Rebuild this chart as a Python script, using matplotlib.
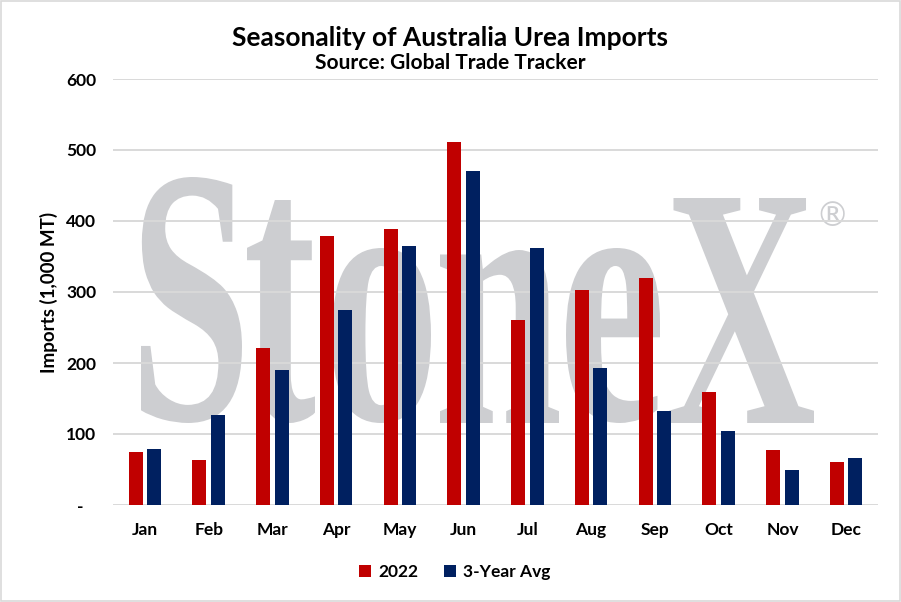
import numpy as np
import matplotlib
matplotlib.use("Agg")
import matplotlib.pyplot as plt
from matplotlib.textpath import TextPath
from matplotlib.font_manager import FontProperties
from matplotlib.patches import PathPatch, Rectangle
from matplotlib.transforms import Affine2D

# data
months = ["Jan", "Feb", "Mar", "Apr", "May", "Jun",
          "Jul", "Aug", "Sep", "Oct", "Nov", "Dec"]
imports_2022 = [75, 63, 221, 379, 389, 511, 261, 303, 320, 159, 77, 61]
imports_3yr_avg = [79, 127, 190, 275, 365, 470, 362, 193, 132, 104, 49, 66]
y_ticks = [0, 100, 200, 300, 400, 500, 600]
y_tick_labels = ["-   ", "100", "200", "300", "400", "500", "600"]

RED = "#C00000"
NAVY = "#002060"
WM_GRAY = "#CDCED1"
GRID = "#D9D9D9"

plt.rcParams["font.family"] = ["Lato", "DejaVu Sans"]
plt.rcParams["font.weight"] = "bold"

fig = plt.figure(figsize=(9.01, 6.02), dpi=100)
ax = fig.add_axes([113 / 901, 1 - 505 / 602, 765 / 901, 426 / 602])

# -------------------------------------------------------------
# watermark (StoneX logo), letter boxes given in figure pixels
# -------------------------------------------------------------
def px_to_ax(px, py):
    return (px - 113) / 765, (505 - py) / 426

serif = FontProperties(family="Liberation Serif")
baseline = 423
letters = [("S", 141, 242, 177), ("t", 247, 315, 200), ("o", 332, 431, 248),
           ("n", 440, 559, 250), ("e", 566, 660, 248), ("X", 669, 814, 198)]
for ch, x0, x1, ytop in letters:
    tp = TextPath((0, 0), ch, size=1, prop=serif)
    ext = tp.get_extents()
    ax0, ay0 = px_to_ax(x0, baseline)
    ax1, ay1 = px_to_ax(x1, ytop)
    tr = (Affine2D().translate(-ext.x0, -ext.y0)
          .scale((ax1 - ax0) / ext.width, (ay1 - ay0) / ext.height)
          .translate(ax0, ay0))
    patch = PathPatch(tr.transform_path(tp), facecolor=WM_GRAY, edgecolor="none",
                      transform=ax.transAxes, zorder=0.1)
    ax.add_patch(patch)

rx, ry = px_to_ax(832, 217)
ax.text(rx, ry, "®", transform=ax.transAxes, fontsize=24, color=WM_GRAY,
        fontweight="normal", family="DejaVu Sans", ha="center", va="center", zorder=0.1)

# -------------------------------------------------------------
# bars
# -------------------------------------------------------------
x = np.arange(len(months))
w = 0.22
off = 0.145
ax.bar(x - off, imports_2022, w, color=RED, label="2022", zorder=2)
ax.bar(x + off, imports_3yr_avg, w, color=NAVY, label="3-Year Avg", zorder=2)

ax.set_xlim(-0.5, len(months) - 0.5)
ax.set_ylim(0, 600)
ax.set_yticks(y_ticks)
ax.set_yticklabels(y_tick_labels)
ax.set_xticks(x)
ax.set_xticklabels(months)
ax.tick_params(axis="both", length=0, labelsize=12.5, colors="black")
ax.tick_params(axis="y", pad=12)
ax.tick_params(axis="x", pad=12)
for lbl in ax.get_xticklabels() + ax.get_yticklabels():
    lbl.set_fontweight("bold")

ax.set_axisbelow(True)
ax.yaxis.grid(True, color=GRID, linewidth=1.4)
for s in ax.spines.values():
    s.set_visible(False)
ax.set_facecolor("none")

ax.set_ylabel("Imports (1,000 MT)", fontsize=13.5, fontweight="bold", labelpad=6)

fig.text(0.5, 1 - 38 / 602, "Seasonality of Australia Urea Imports",
         ha="center", va="center", fontsize=19, fontweight="bold")
fig.text(0.5, 1 - 63 / 602, "Source: Global Trade Tracker",
         ha="center", va="center", fontsize=15, fontweight="bold")

leg = fig.legend(loc="center", bbox_to_anchor=(455 / 901, 1 - 572 / 602), ncol=2,
                 frameon=False, fontsize=12.5, handlelength=0.7, handleheight=0.7,
                 handletextpad=0.4, columnspacing=1.5)
for t in leg.get_texts():
    t.set_fontweight("bold")

fig.patches.append(Rectangle((0.001, 0.001), 0.998, 0.997, transform=fig.transFigure,
                             fill=False, edgecolor="#D9D9D9", linewidth=1.2))

fig.savefig("out.png", dpi=100)
